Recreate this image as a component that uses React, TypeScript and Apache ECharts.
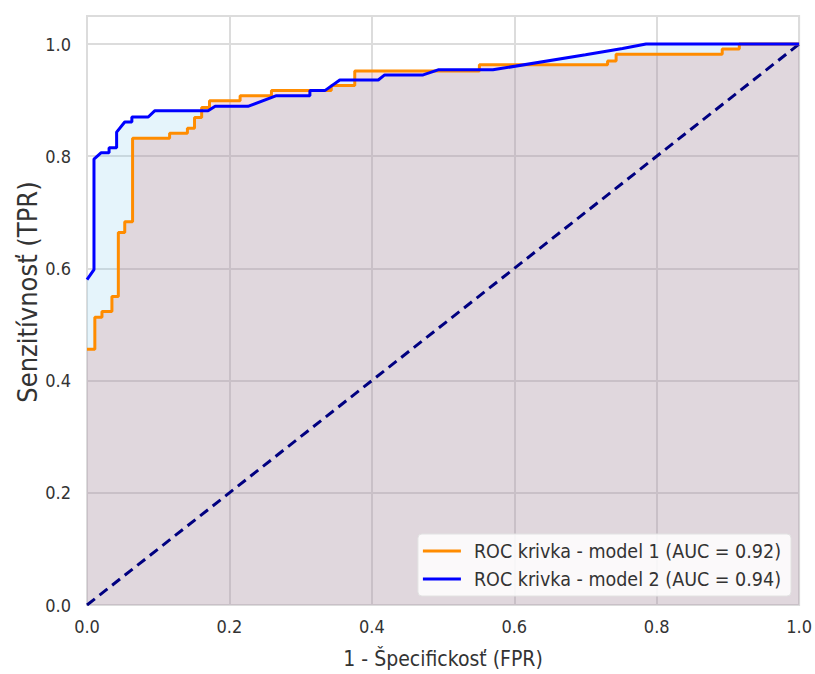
import React, { useEffect, useRef } from "react";
import * as echarts from "echarts";

const model1Name = "ROC krivka - model 1 (AUC = 0.92)";
const model2Name = "ROC krivka - model 2 (AUC = 0.94)";
const xTitle = "1 - Špecifickosť (FPR)";
const yTitle = "Senzitívnosť (TPR)";

const model1Fpr = [0, 0, 0.011, 0.011, 0.021, 0.021, 0.035, 0.035, 0.044, 0.044, 0.053, 0.053, 0.064, 0.064, 0.116, 0.116, 0.141, 0.141, 0.151, 0.151, 0.161, 0.161, 0.172, 0.172, 0.215, 0.215, 0.259, 0.259, 0.343, 0.343, 0.376, 0.376, 0.551, 0.551, 0.731, 0.731, 0.743, 0.743, 0.892, 0.892, 0.916, 0.916, 1.0];
const model1Tpr = [0, 0.456, 0.456, 0.513, 0.513, 0.523, 0.523, 0.55, 0.55, 0.664, 0.664, 0.683, 0.683, 0.832, 0.832, 0.841, 0.841, 0.85, 0.85, 0.869, 0.869, 0.887, 0.887, 0.899, 0.899, 0.908, 0.908, 0.917, 0.917, 0.926, 0.926, 0.952, 0.952, 0.963, 0.963, 0.97, 0.97, 0.982, 0.982, 0.991, 0.991, 1.0, 1.0];

const model2Fpr = [0, 0, 0.0098, 0.0098, 0.0196, 0.031, 0.031, 0.0416, 0.0416, 0.053, 0.063, 0.063, 0.086, 0.095, 0.17, 0.18, 0.226, 0.266, 0.313, 0.313, 0.334, 0.355, 0.409, 0.418, 0.472, 0.493, 0.57, 0.7, 0.752, 0.785, 1.0];
const model2Tpr = [0, 0.58, 0.598, 0.795, 0.806, 0.806, 0.815, 0.815, 0.843, 0.861, 0.861, 0.87, 0.87, 0.881, 0.881, 0.889, 0.889, 0.908, 0.908, 0.917, 0.917, 0.936, 0.936, 0.945, 0.945, 0.954, 0.954, 0.981, 0.992, 1.0, 1.0];

const chanceFpr = [0, 1];
const chanceTpr = [0, 1];

const zip = (a: number[], b: number[]) => a.map((v, i) => [v, b[i]]);

const FONT = "'DejaVu Sans Condensed', 'DejaVu Sans', sans-serif";
const TEXT = "#333333";

export default function App() {
  const ref = useRef<HTMLDivElement>(null);
  useEffect(() => {
    if (!ref.current) return;
    const chart = echarts.init(ref.current, undefined, { renderer: "svg" });
    const d1 = zip(model1Fpr, model1Tpr);
    const d2 = zip(model2Fpr, model2Tpr);
    chart.setOption({
      animation: false,
      backgroundColor: "#ffffff",
      textStyle: { fontFamily: FONT },
      grid: {
        left: 87,
        right: 15,
        top: 16,
        bottom: 68,
        show: true,
        borderColor: "#dcdcdc",
        borderWidth: 2,
        backgroundColor: "transparent",
      },
      graphic: [
        {
          type: "text",
          x: 27,
          y: 292,
          rotation: Math.PI / 2,
          style: {
            text: yTitle,
            font: `27px ${FONT}`,
            fill: TEXT,
            align: "center",
            verticalAlign: "middle",
          },
        },
      ],
      xAxis: {
        type: "value",
        min: 0,
        max: 1,
        interval: 0.2,
        axisLine: { show: false },
        axisTick: { show: false },
        splitLine: { show: true, lineStyle: { color: "#dcdcdc", width: 2 } },
        axisLabel: {
          fontSize: 18,
          color: TEXT,
          fontFamily: FONT,
          margin: 12,
          formatter: (v: number) => v.toFixed(1),
        },
        name: xTitle,
        nameLocation: "middle",
        nameGap: 43,
        nameTextStyle: { fontSize: 21, color: TEXT, fontFamily: FONT },
      },
      yAxis: {
        type: "value",
        min: 0,
        max: 1.05,
        interval: 0.2,
        axisLine: { show: false },
        axisTick: { show: false },
        splitLine: { show: true, lineStyle: { color: "#dcdcdc", width: 2 } },
        axisLabel: {
          fontSize: 18,
          color: TEXT,
          fontFamily: FONT,
          margin: 16,
          showMaxLabel: false,
          formatter: (v: number) => v.toFixed(1),
        },
      },
      legend: {
        data: [model1Name, model2Name],
        orient: "vertical",
        right: 24,
        bottom: 78,
        backgroundColor: "rgba(255,255,255,0.85)",
        borderColor: "#e2e2e2",
        borderWidth: 1,
        borderRadius: 4,
        padding: [7, 10, 7, 5],
        itemGap: 8,
        itemWidth: 38,
        itemHeight: 3,
        icon: "rect",
        textStyle: { fontSize: 19.5, color: TEXT, fontFamily: FONT, padding: [0, 0, 0, 8] },
      },
      series: [
        {
          type: "line",
          data: d2,
          showSymbol: false,
          silent: true,
          lineStyle: { width: 0, opacity: 0 },
          areaStyle: { color: "rgba(135,206,235,0.22)", opacity: 1 },
          z: 1,
        },
        {
          type: "line",
          data: d1,
          showSymbol: false,
          silent: true,
          lineStyle: { width: 0, opacity: 0 },
          areaStyle: { color: "rgba(204,98,103,0.2)", opacity: 1 },
          z: 2,
        },
        {
          type: "line",
          data: zip(chanceFpr, chanceTpr),
          showSymbol: false,
          silent: true,
          lineStyle: { color: "#000080", width: 3, type: [10, 6] },
          z: 3,
        },
        {
          name: model1Name,
          type: "line",
          data: d1.slice(1),
          showSymbol: false,
          color: "#ff8c00",
          lineStyle: { color: "#ff8c00", width: 3 },
          z: 4,
        },
        {
          name: model2Name,
          type: "line",
          data: d2.slice(1),
          showSymbol: false,
          color: "#0000ff",
          lineStyle: { color: "#0000ff", width: 3 },
          z: 5,
        },
      ],
    });
    return () => chart.dispose();
  }, []);
  return (
    <div
      ref={ref}
      style={{ position: "fixed", left: 0, top: 0, width: 815, height: 674 }}
    />
  );
}
